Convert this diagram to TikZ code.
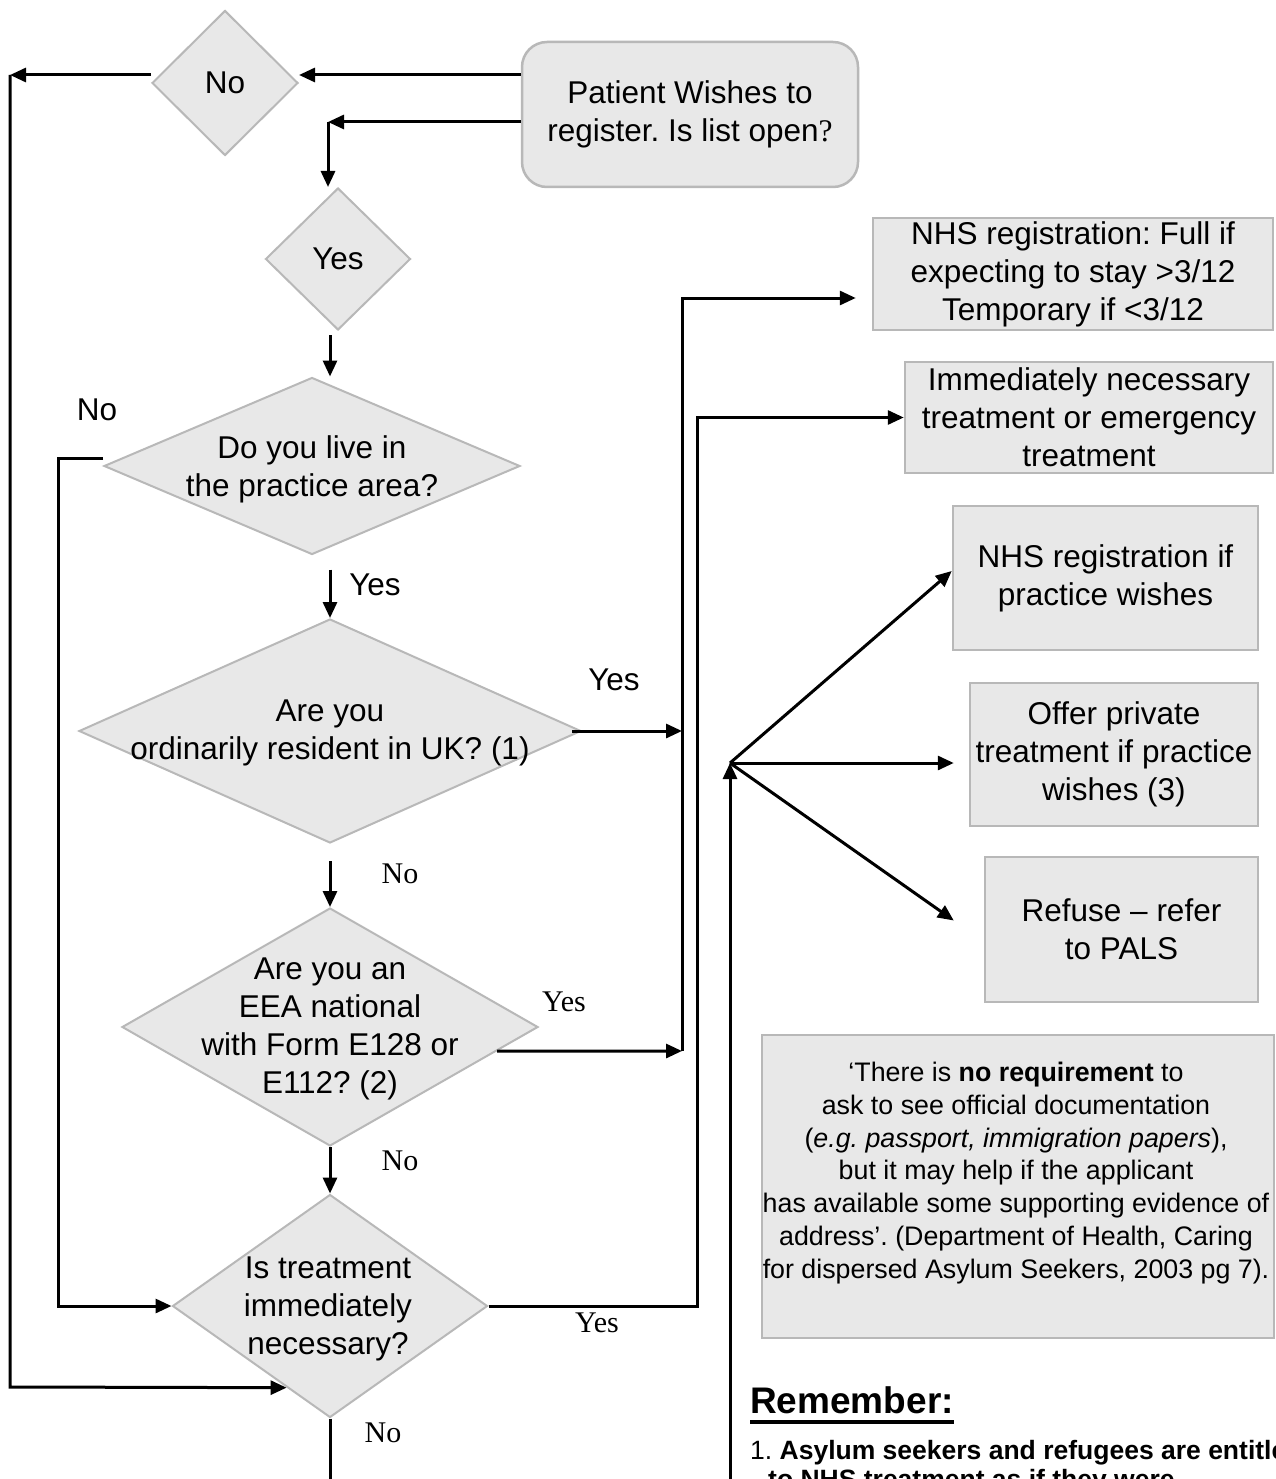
\documentclass[tikz,border=0pt]{standalone}
\usepackage{fontspec}
\setmainfont{Liberation Sans}
\newfontfamily\serifLS{Liberation Serif}
\usetikzlibrary{shapes.geometric,arrows.meta,calc}
\definecolor{boxfill}{HTML}{E8E8E8}
\definecolor{boxline}{HTML}{B8B8B8}
\frenchspacing
\begin{document}
\frenchspacing
\begin{tikzpicture}[x=1pt,y=-1pt,
  font=\fontsize{31.5}{38}\selectfont,
  dia/.style={diamond, draw=boxline, line width=2pt, fill=boxfill, inner sep=0pt},
  box/.style={rectangle, draw=boxline, line width=2.5pt, fill=boxfill, align=center, inner sep=0pt},
  arr/.style={line width=3pt, -{Triangle[length=16pt,width=14pt]}},
  ln/.style={line width=3pt},
  lab/.style={inner sep=0pt},
  slab/.style={inner sep=0pt, font=\serifLS\fontsize{30}{36}\selectfont}
]
\useasboundingbox (0,0) rectangle (1275,1479);
\clip (0,0) rectangle (1275,1479);
\fill[white] (0,0) rectangle (1275,1479);

% start box
\node[box, rounded corners=25pt, minimum width=336pt, minimum height=145pt] (pat) at (690,114.5) {Patient Wishes to\\register. Is list open{\serifLS ?}};

% diamonds
\node[dia, minimum width=146pt, minimum height=145pt] (dno) at (225,83) {};
\node[lab] (tno) at (dno) {No};
\node[dia, minimum width=145pt, minimum height=142pt] (dyes) at (338,259) {};
\node[lab] (tyes) at (dyes) {Yes};
\node[dia, minimum width=416pt, minimum height=177pt] (dlive) at (312,466) {};
\node[lab, align=center] (tlive) at (312,469) {Do you live in\\the practice area?};
\node[dia, minimum width=502pt, minimum height=224pt] (dres) at (330,731) {};
\node[lab, align=center] (tres) at (330,733) {Are you\\ordinarily resident in UK? (1)};
\node[dia, minimum width=416pt, minimum height=238pt] (deea) at (330,1027) {};
\node[lab, align=center] (teea) at (330,1029) {Are you an\\EEA national\\with Form E128 or\\E112? (2)};
\node[dia, minimum width=315pt, minimum height=223pt] (dtreat) at (330,1306) {};
\node[lab, align=center] (ttreat) at (328,1309) {Is treatment\\immediately\\necessary?};

% outcome boxes
\node[box, minimum width=400pt, minimum height=112pt] (bnhs) at (1073,274) {NHS registration: Full if\\expecting to stay >3/12\\Temporary if <3/12};
\node[box, minimum width=368pt, minimum height=111pt] (bimm) at (1089,417.5) {Immediately necessary\\treatment or emergency\\treatment};
\node[box, minimum width=305pt, minimum height=144pt] (bnhsif) at (1105.5,578) {NHS registration if\\practice wishes};
\node[box, minimum width=288pt, minimum height=143pt] (bpriv) at (1114,754.5) {Offer private\\treatment if practice\\wishes (3)};
\node[box, minimum width=273pt, minimum height=145pt] (bref) at (1121.5,929.5) {Refuse – refer\\to PALS};
\node[box, minimum width=512pt, minimum height=303pt] (bnote) at (1018,1186.5) {};
\node[lab, align=center, font=\fontsize{26.8}{32.7}\selectfont] (tnote) at (1016,1173) {‘There is \textbf{no requirement} to\\ask to see official documentation\\(\textit{e.g. passport, immigration papers}),\\but it may help if the applicant\\has available some supporting evidence of\\address’. (Department of Health, Caring\\for dispersed Asylum Seekers, 2003 pg 7).};

% remember
\node[lab, anchor=west, font=\bfseries\fontsize{37}{44}\selectfont] (rem) at (750,1400) {Remember:};
\draw[line width=3.5pt] ([yshift=-9pt]rem.base west) -- ([yshift=-9pt]rem.base east);
\node[lab, anchor=north west, align=left, font=\fontsize{26.5}{29}\selectfont] (rem1) at (750,1440) {1. \textbf{Asylum seekers and refugees are entitled}\\\hspace*{18pt}\textbf{to NHS treatment as if they were}};

% edge labels
\node[lab] (lno1) at (97,410) {No};
\node[lab] (lyes1) at (375,585) {Yes};
\node[lab] (lyes2) at (614,680) {Yes};
\node[slab] (lno2) at (400,874) {No};
\node[slab] (lyes3) at (564,1002) {Yes};
\node[slab] (lno3) at (400,1161) {No};
\node[slab] (lyes4) at (597,1323) {Yes};
\node[slab] (lno4) at (383,1433) {No};

% connectors
\coordinate (lt) at (10,75);
\coordinate (lb) at (10,1387);
\draw[arr] (pat.west |- lt) -- (dno.east |- lt);
\draw[arr] (dno.west |- lt) -- (lt);
\draw[arr] (lt) -- (lb) -- ($(dtreat.west)!0.726!(dtreat.south)$);

\coordinate (c1) at (328,122);
\draw[arr] (pat.west |- c1) -- (c1);
\draw[arr] (c1) -- (c1 |- dyes.north);

\draw[arr] ($(dyes.south -| dres.north)+(0,4)$) -- (dlive.north -| dres.north);
\draw[arr] ($(dlive.south -| dres.north)+(0,14)$) -- (dres.north);
\draw[arr] ($(dres.south)+(0,17)$) -- (deea.north);
\draw[arr] (deea.south) -- (dtreat.north);
\draw[ln] (dtreat.south) -- ($(dtreat.south)+(0,80)$);

\coordinate (v1top) at (682,298);
\coordinate (v1bot) at (682,1051);
\draw[arr] ($(dres.east)+(-10,0)$) -- (dres.east -| v1top);
\draw[arr] ($(deea.east)!0.2!(deea.south)$) -- (v1bot);
\draw[arr] (v1bot) -- (v1top) -- ($(bnhs.west |- v1top)+(-16,0)$);

\coordinate (v2) at (697,1306);
\draw[arr] (dtreat.east) -- (v2) -- (v2 |- bimm.west) -- (bimm.west);

\coordinate (v3) at (58,458);
\draw[arr] (dlive.west |- v3) -- (v3) -- (v3 |- dtreat.west) -- (dtreat.west);

\coordinate (br) at (730,763);
\coordinate (brb) at (730,1500);
\draw[arr] (brb) -- (br);
\draw[arr] (br) -- ($(bnhsif.west)+(0,-7)$);
\draw[arr] (br) -- ($(bpriv.west |- br)+(-15,0)$);
\draw[arr] (br) -- ($(bref.west)+(-30,-9)$);
\end{tikzpicture}
\end{document}
